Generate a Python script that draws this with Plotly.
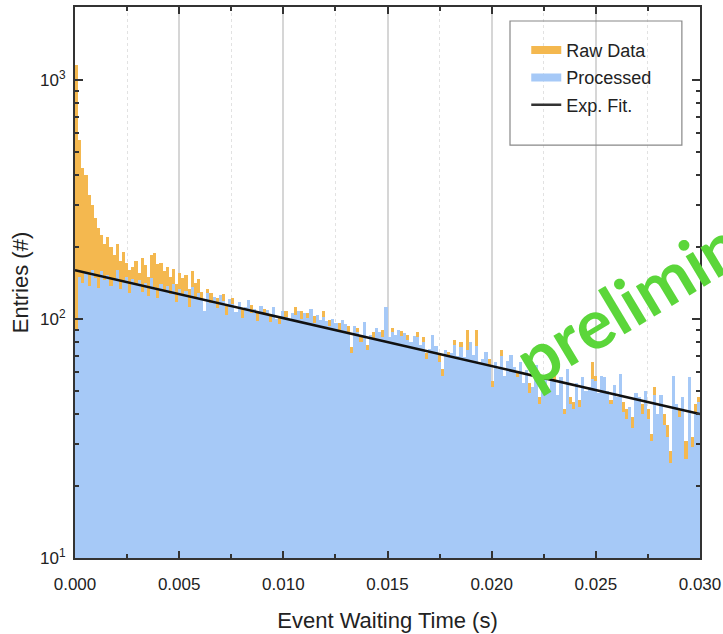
import plotly.graph_objects as go

BIN_WIDTH = 0.00015

raw_counts = [
    1150, 560, 430, 400, 330, 300, 265, 240, 225, 205,
    220, 200, 185, 205, 175, 190, 172, 160, 165, 175,
    155, 180, 168, 150, 185, 188, 170, 172, 158, 165,
    150, 162, 140, 155, 148, 152, 133, 158, 141, 147,
    130, 108, 134, 128, 124, 122, 126, 127, 115, 121,
    122, 107, 118, 110, 112, 120, 114, 110, 106, 113,
    110, 109, 104, 112, 100, 102, 108, 108, 99, 106,
    112, 108, 108, 106, 106, 110, 103, 104, 99, 108,
    98, 99, 100, 96, 96, 99, 95, 93, 76, 93,
    92, 85, 97, 78, 86, 88, 92, 88, 90, 106,
    84, 92, 86, 90, 89, 87, 86, 80, 85, 88,
    78, 84, 72, 75, 86, 77, 71, 62, 74, 73,
    72, 82, 70, 80, 69, 90, 80, 71, 90, 66,
    68, 73, 68, 55, 66, 62, 74, 58, 67, 71,
    63, 60, 66, 54, 61, 54, 52, 64, 47, 55,
    58, 51, 60, 58, 48, 57, 42, 62, 47, 45,
    54, 46, 57, 50, 52, 66, 58, 49, 58, 57,
    50, 46, 53, 47, 59, 45, 42, 43, 39, 49,
    47, 44, 50, 42, 33, 52, 40, 48, 40, 36,
    28, 58, 44, 42, 47, 31, 57, 32, 44, 47,
]

processed_counts = [
    90, 150, 142, 155, 138, 160, 148, 135, 158, 145,
    152, 137, 146, 160, 133, 144, 150, 128, 147, 139,
    145, 130, 141, 125, 148, 136, 122, 140, 132, 138,
    127, 140, 118, 133, 125, 131, 112, 136, 124, 129,
    120, 108, 128, 117, 124, 111, 126, 119, 104, 121,
    115, 107, 118, 101, 112, 120, 106, 110, 98, 113,
    104, 109, 97, 112, 100, 95, 108, 102, 99, 106,
    104, 108, 100, 106, 101, 110, 96, 104, 99, 102,
    98, 93, 100, 96, 90, 99, 95, 88, 72, 93,
    88, 80, 97, 74, 86, 83, 92, 88, 84, 112,
    84, 88, 86, 90, 85, 87, 82, 80, 85, 84,
    78, 80, 68, 75, 86, 77, 66, 58, 74, 69,
    72, 78, 70, 76, 69, 74, 80, 71, 77, 66,
    68, 73, 64, 52, 66, 62, 70, 58, 67, 71,
    63, 57, 66, 54, 61, 49, 52, 64, 44, 55,
    58, 51, 60, 55, 48, 57, 40, 62, 44, 42,
    54, 43, 57, 50, 52, 56, 55, 49, 58, 57,
    50, 44, 53, 47, 59, 41, 38, 43, 35, 49,
    47, 40, 50, 38, 31, 48, 40, 48, 36, 32,
    25, 58, 44, 39, 47, 26, 57, 29, 41, 45,
]

fit_time = [0.0, 0.030]
fit_counts = [160, 40]

x_tick_vals = [0.0, 0.005, 0.010, 0.015, 0.020, 0.025, 0.030]
x_tick_text = ["0.000", "0.005", "0.010", "0.015", "0.020", "0.025", "0.030"]
y_tick_vals = [10, 100, 1000]
y_tick_text = ["10<sup>1</sup>", "10<sup>2</sup>", "10<sup>3</sup>"]
y_minor_vals = [20, 30, 40, 50, 60, 70, 80, 90, 200, 300, 400, 500, 600, 700, 800, 900, 2000]

ORANGE = "#F4B84F"
BLUE = "#A6C9F7"
FONT = "Liberation Sans, Arial, sans-serif"

centers = [(i + 0.5) * BIN_WIDTH for i in range(len(raw_counts))]

fig = go.Figure()
fig.add_trace(go.Bar(x=centers, y=raw_counts, width=BIN_WIDTH, name="Raw Data",
                     marker=dict(color=ORANGE, line=dict(width=0)), showlegend=False))
fig.add_trace(go.Bar(x=centers, y=processed_counts, width=BIN_WIDTH, name="Processed",
                     marker=dict(color=BLUE, line=dict(width=0)), showlegend=False))
fig.add_trace(go.Scatter(x=fit_time, y=fit_counts, mode="lines", name="Exp. Fit.",
                         line=dict(color="#111111", width=2.5), showlegend=False))

# legend entries
fig.add_trace(go.Scatter(x=[None], y=[None], mode="lines", name="Raw Data",
                         line=dict(color=ORANGE, width=8), legendgroup="a"))
fig.add_trace(go.Scatter(x=[None], y=[None], mode="lines", name="Processed",
                         line=dict(color=BLUE, width=8), legendgroup="b"))
fig.add_trace(go.Scatter(x=[None], y=[None], mode="lines", name="Exp. Fit.",
                         line=dict(color="#333333", width=2.5), legendgroup="c"))

fig.update_layout(
    width=723, height=634,
    margin=dict(l=75, r=23, t=7, b=76, autoexpand=False),
    paper_bgcolor="white", plot_bgcolor="white",
    barmode="overlay", bargap=0,
    font=dict(family=FONT, size=17, color="#222222"),
    legend=dict(x=0.722, y=0.955, xanchor="left", yanchor="top",
                bgcolor="rgba(255,255,255,0)", borderwidth=0,
                font=dict(size=18, color="#222222"), tracegroupgap=1),
    shapes=[dict(type="rect", xref="paper", yref="paper",
                 x0=0.696, x1=0.971, y0=0.7495, y1=0.9746,
                 line=dict(color="#888888", width=1.2), fillcolor="rgba(0,0,0,0)")],
    annotations=[dict(text="<b>preliminary</b>", xref="paper", yref="paper",
                      x=0.951, y=0.511, xanchor="center", yanchor="middle",
                      showarrow=False, textangle=-31,
                      font=dict(family="Lato, Open Sans, sans-serif", size=69, color="#5BD63A"))],
)

fig.update_xaxes(
    automargin=False,
    range=[0, 0.030], tickvals=x_tick_vals, ticktext=x_tick_text,
    ticks="inside", ticklen=7, tickwidth=2, tickcolor="#333333",
    ticklabelstandoff=10,
    showline=True, linecolor="#333333", linewidth=2, mirror="ticks",
    showgrid=True, gridcolor="#d6d6d6", gridwidth=1.5,
    minor=dict(dtick=0.0025, ticks="inside", ticklen=4, tickwidth=1.5, tickcolor="#333333",
               showgrid=True, gridcolor="#e2e2e2", griddash="dot", gridwidth=1),
    zeroline=False,
    title=dict(text="Event Waiting Time (s)", font=dict(size=22, color="#222222"), standoff=19),
)
fig.update_yaxes(
    automargin=False,
    type="log", range=[1, 3.305], tickvals=y_tick_vals, ticktext=y_tick_text,
    ticks="inside", ticklen=8, tickwidth=2, tickcolor="#333333",
    ticklabelstandoff=4,
    showline=True, linecolor="#333333", linewidth=2, mirror="ticks",
    showgrid=False, zeroline=False,
    minor=dict(tickvals=y_minor_vals, ticks="inside", ticklen=4, tickwidth=1.5,
               tickcolor="#333333", showgrid=False),
    title=dict(text="Entries (#)", font=dict(size=22, color="#222222"), standoff=5),
)

fig.write_html(
    "out.html",
    config={"displayModeBar": False},
    post_script="document.body.style.margin='0';document.body.style.overflow='hidden';",
)
